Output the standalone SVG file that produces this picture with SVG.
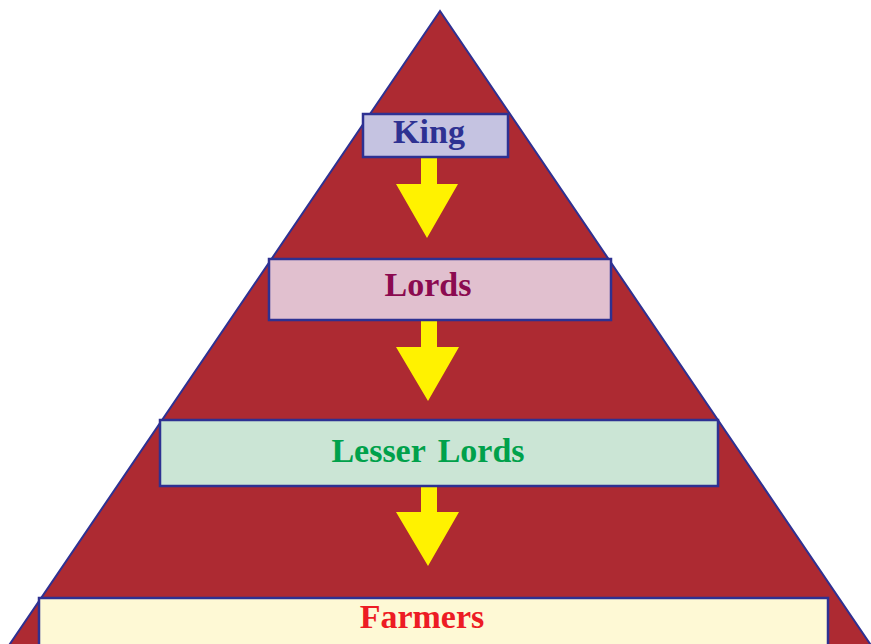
<svg xmlns="http://www.w3.org/2000/svg" width="871" height="644" viewBox="0 0 871 644">
<style>
.box{stroke:#2e3192;stroke-width:2.5}
.lbl{font-family:"Liberation Serif","Times New Roman",serif;font-weight:bold;font-size:34px;text-anchor:middle}
.arrow{fill:#fff200}
</style>
<rect width="871" height="644" fill="#ffffff"/>
<g id="pyramid">
<polygon points="440,11 -1,660 881,660" fill="#ad2a32" stroke="#2e3192" stroke-width="2"/>
</g>
<g id="connectors">
<polygon class="arrow" points="421,157 437,157 437,184 458,184 427,238 396,184 421,184"/>
<polygon class="arrow" points="421,320 437,320 437,347 459,347 428,401 396,347 421,347"/>
<polygon class="arrow" points="421,486 437,486 437,512 459,512 428,566 396,512 421,512"/>
</g>
<g id="king">
<rect class="box" x="363" y="114" width="145" height="43" fill="#c5c3e1"/>
<text class="lbl" x="429" y="143" fill="#2e3192">King</text>
</g>
<g id="lords">
<rect class="box" x="269" y="259" width="342" height="61" fill="#e1c0cf"/>
<text class="lbl" x="428" y="296" fill="#8b0a50">Lords</text>
</g>
<g id="lesser-lords">
<rect class="box" x="160" y="420" width="558" height="66" fill="#cbe5d5"/>
<text class="lbl" x="428" y="462" fill="#00a14b" word-spacing="4">Lesser Lords</text>
</g>
<g id="farmers">
<rect class="box" x="39" y="598" width="789" height="60" fill="#fef9d5"/>
<text class="lbl" x="422" y="628" fill="#ed1c24">Farmers</text>
</g>
</svg>
